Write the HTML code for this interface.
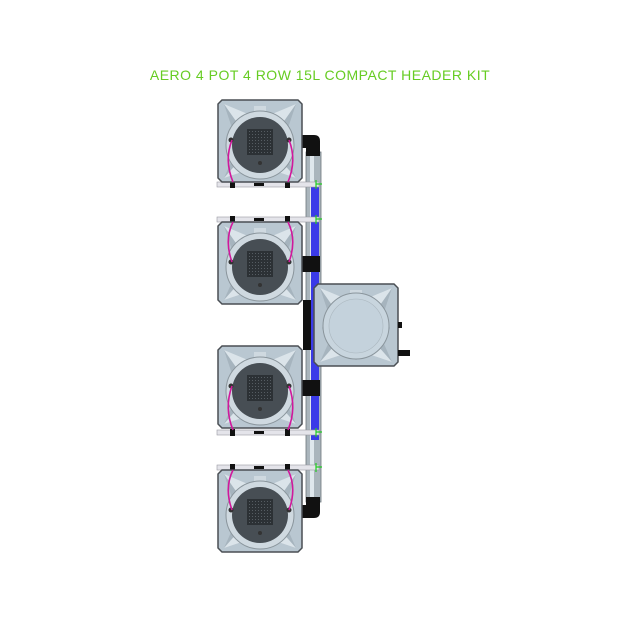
<!DOCTYPE html>
<html><head><meta charset="utf-8"><style>
html,body{margin:0;padding:0;background:#fff}
svg{display:block}
</style></head><body>
<svg width="640" height="640" viewBox="0 0 640 640" xmlns="http://www.w3.org/2000/svg">
<defs>
<pattern id="dots" width="3" height="3" patternUnits="userSpaceOnUse"><rect width="3" height="3" fill="#2c3135"/><rect x="1" y="1" width="1" height="1" fill="#555c62"/></pattern>
<g id="box">
<path d="M4,0 H80 L84,4 V78 L80,82 H4 L0,78 V4 Z" fill="#b9c7d1" stroke="#4a4f54" stroke-width="1.5"/>
<path d="M6,4 L30,14 L42,8 L54,14 L78,4 L70,28 L76,44 L70,60 L78,78 L54,70 L42,76 L30,70 L6,78 L14,60 L8,44 L14,28 Z" fill="#a6b4be"/>
<path d="M6,4 L30,14 L20,24 Z M78,4 L54,14 L64,24 Z M6,78 L30,70 L20,62 Z M78,78 L54,70 L64,62 Z" fill="#dbe4ea"/>
<rect x="36" y="6" width="12" height="8" fill="#cfd9e0"/>
</g>
<g id="pot">
<use href="#box"/>
<circle cx="42" cy="45" r="34" fill="#cfd9e0" stroke="#8a959c"/>
<circle cx="42" cy="45" r="28" fill="#474e54"/>
<rect x="29" y="29" width="26" height="26" fill="url(#dots)"/>
<circle cx="42" cy="63" r="2" fill="#333"/>
<circle cx="13" cy="40" r="2.5" fill="#333"/>
<circle cx="71" cy="40" r="2.5" fill="#333"/>
</g>
</defs>

<text x="320" y="80" text-anchor="middle" font-family="Liberation Sans, sans-serif" font-size="14" fill="#66cc22" letter-spacing="0.5">AERO 4 POT 4 ROW 15L COMPACT HEADER KIT</text>

<rect x="306" y="152" width="15" height="350" fill="#aab5bc" stroke="#6d767c" stroke-width="0.8"/>
<rect x="310" y="152" width="4" height="350" fill="#dfe7ec"/>
<rect x="311" y="186" width="8" height="254" fill="#3a3ae8"/>
<path d="M302,135 H314 Q320,135 320,141 V156 H306 V148 H302 Z" fill="#111"/>
<path d="M302,518 H314 Q320,518 320,512 V497 H306 V505 H302 Z" fill="#111"/>
<rect x="302" y="256" width="18" height="16" fill="#111"/>
<rect x="302" y="380" width="18" height="16" fill="#111"/>
<rect x="303" y="300" width="8" height="50" fill="#111"/>

<g fill="#e4e4ea" stroke="#9a9aa2" stroke-width="0.6">
<rect x="217" y="182" width="102" height="5"/>
<rect x="217" y="217" width="102" height="5"/>
<rect x="217" y="430" width="102" height="5"/>
<rect x="217" y="465" width="102" height="5"/>
</g>
<g fill="#111">
<rect x="230" y="181" width="5" height="7"/><rect x="285" y="181" width="5" height="7"/><rect x="254" y="183" width="10" height="3"/>
<rect x="230" y="216" width="5" height="7"/><rect x="285" y="216" width="5" height="7"/><rect x="254" y="218" width="10" height="3"/>
<rect x="230" y="429" width="5" height="7"/><rect x="285" y="429" width="5" height="7"/><rect x="254" y="431" width="10" height="3"/>
<rect x="230" y="464" width="5" height="7"/><rect x="285" y="464" width="5" height="7"/><rect x="254" y="466" width="10" height="3"/>
</g>
<g stroke="#22cc22" stroke-width="1.2"><path d="M316,180 V189 M316,184 H322"/><path d="M316,215 V224 M316,219 H322"/><path d="M316,428 V437 M316,432 H322"/><path d="M316,463 V472 M316,467 H322"/></g>

<use href="#pot" x="218" y="100"/>
<use href="#pot" x="218" y="222"/>
<use href="#pot" x="218" y="346"/>
<use href="#pot" x="218" y="470"/>

<use href="#box" x="314" y="284"/>
<circle cx="356" cy="326" r="33" fill="#c8d5de" stroke="#8a959c"/>
<circle cx="356" cy="326" r="27" fill="#c4d2dc" stroke="#aab6be" stroke-width="0.6"/>
<rect x="398" y="322" width="4" height="6" fill="#111"/>
<rect x="398" y="350" width="12" height="6" fill="#111"/>

<g stroke="#d0189c" stroke-width="1.6" fill="none">
<path d="M232,140 Q224,160 233,182"/><path d="M289,140 Q297,160 288,182"/>
<path d="M232,262 Q224,240 233,222"/><path d="M289,262 Q297,240 288,222"/>
<path d="M232,386 Q224,408 233,430"/><path d="M289,386 Q297,408 288,430"/>
<path d="M232,510 Q224,488 233,470"/><path d="M289,510 Q297,488 288,470"/>
</g>
</svg>
</body></html>
